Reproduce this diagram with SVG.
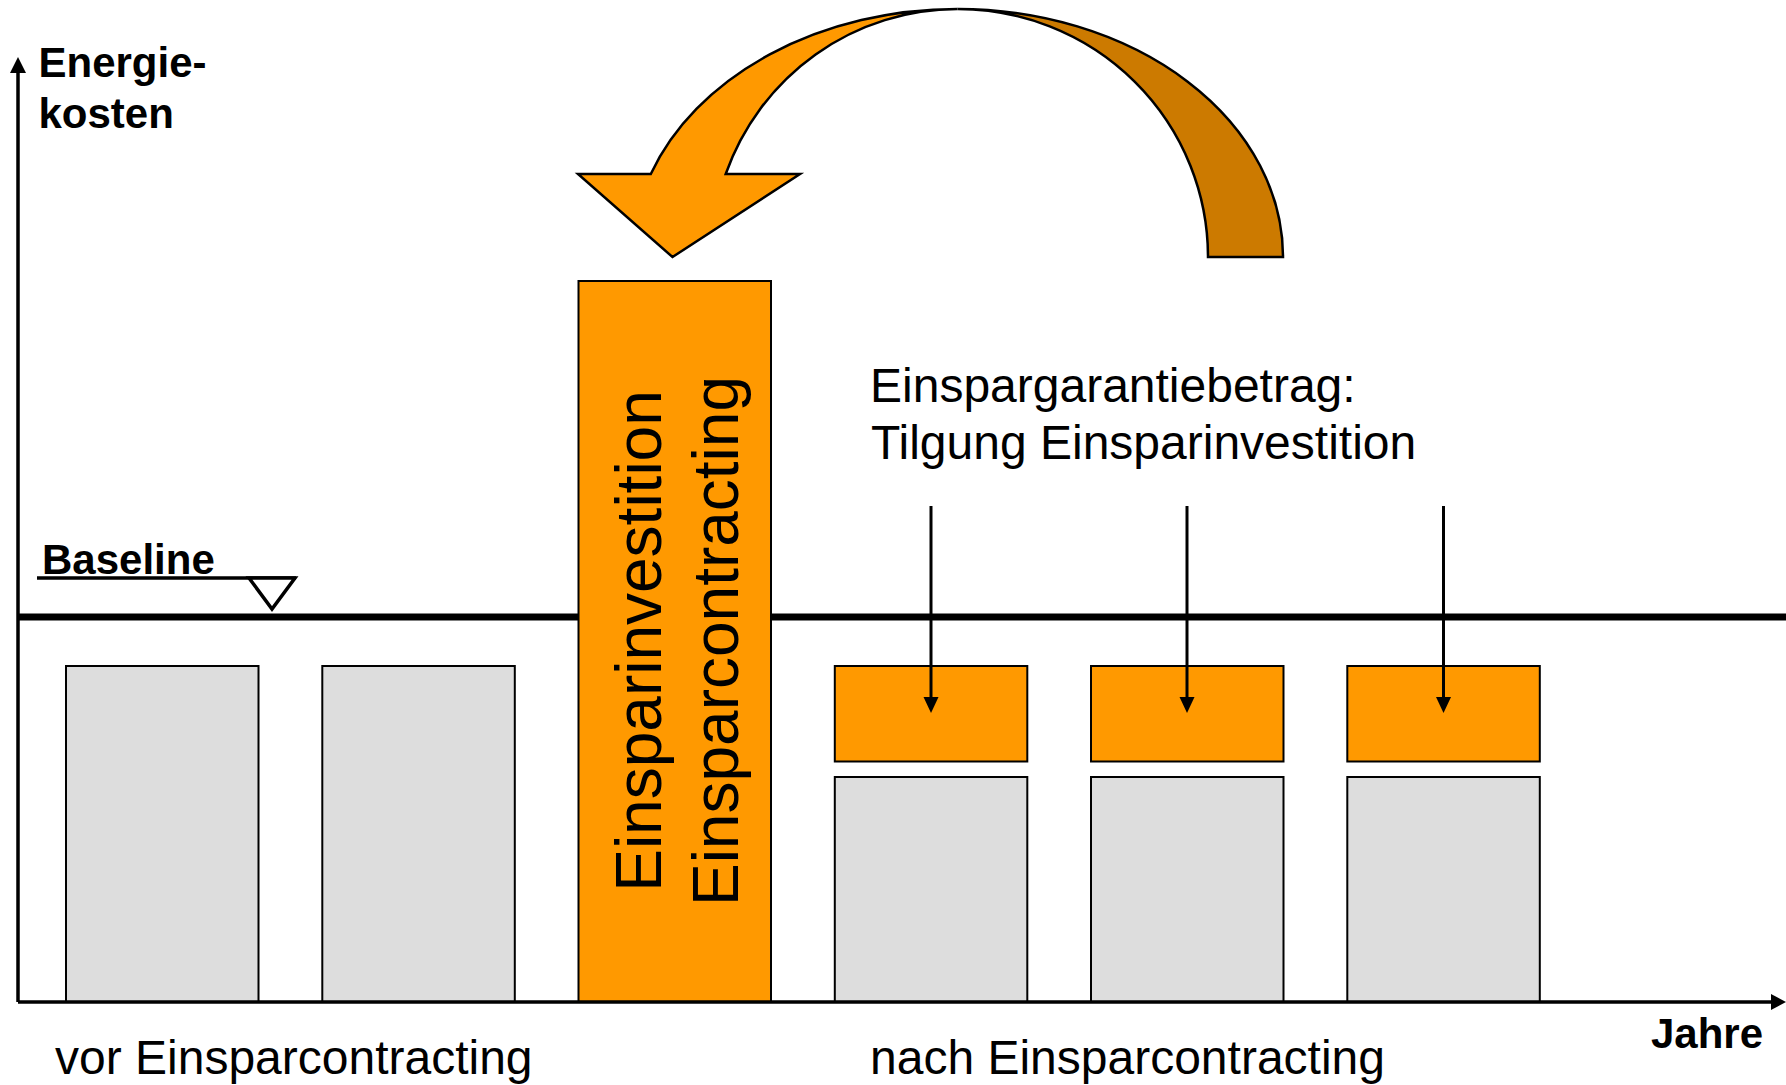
<svg xmlns="http://www.w3.org/2000/svg" width="1786" height="1085" viewBox="0 0 1786 1085">
<style>
.bold{font-family:"Liberation Sans",Arial,sans-serif;font-weight:bold;font-size:42px;fill:#000}
.reg{font-family:"Liberation Sans",Arial,sans-serif;font-size:48px;fill:#000}
.big{font-family:"Liberation Sans",Arial,sans-serif;font-size:64px;fill:#000}
.grey{fill:#DDDDDD;stroke:#000;stroke-width:2}
.orange{fill:#FF9900;stroke:#000;stroke-width:2}
.dark{fill:#CC7A00;stroke:#000;stroke-width:2.5;stroke-linejoin:miter}
.front{fill:#FF9900;stroke:#000;stroke-width:2.5;stroke-linejoin:miter}
.conn{stroke:#000;stroke-width:3;fill:none}
</style>
<rect x="0" y="0" width="1786" height="1085" fill="#fff"/>
<g id="baseline">
<line x1="18" y1="617" x2="1786" y2="617" stroke="#000" stroke-width="7"/>
<line x1="37" y1="578" x2="296" y2="578" stroke="#000" stroke-width="3.5"/>
<polygon points="249,578 295,578 272,609" fill="#fff" stroke="#000" stroke-width="3.5" stroke-linejoin="miter"/>
<text class="bold" x="42" y="574">Baseline</text>
</g>
<g id="bar1"><rect class="grey" x="66" y="666" width="192.5" height="336"/></g>
<g id="bar2"><rect class="grey" x="322.3" y="666" width="192.5" height="336"/></g>
<g id="investment">
<rect class="orange" x="578.5" y="281" width="192.5" height="721"/>
<text class="big" text-anchor="middle" transform="translate(661,641) rotate(-90)">Einsparinvestition</text>
<text class="big" text-anchor="middle" transform="translate(738,641) rotate(-90)">Einsparcontracting</text>
</g>
<g id="year1">
<rect class="orange" x="834.8" y="666" width="192.5" height="95.5"/>
<rect class="grey" x="834.8" y="777" width="192.5" height="225"/>
</g>
<g id="year2">
<rect class="orange" x="1091" y="666" width="192.5" height="95.5"/>
<rect class="grey" x="1091" y="777" width="192.5" height="225"/>
</g>
<g id="year3">
<rect class="orange" x="1347.3" y="666" width="192.5" height="95.5"/>
<rect class="grey" x="1347.3" y="777" width="192.5" height="225"/>
</g>
<g id="axes">
<line x1="18" y1="70" x2="18" y2="1002" stroke="#000" stroke-width="3.5"/>
<polygon points="18,57 10,73 26,73" fill="#000"/>
<line x1="18" y1="1002" x2="1775" y2="1002" stroke="#000" stroke-width="3.5"/>
<polygon points="1786,1002 1771,994 1771,1010" fill="#000"/>
<text class="bold" x="38.5" y="77">Energie-</text>
<text class="bold" x="38.5" y="128">kosten</text>
<text class="bold" x="1651" y="1048">Jahre</text>
</g>
<g id="curved-arrow">
<path class="dark" d="M957.5 9 A325.5 248 0 0 1 1283 257 L1208 257 A250.5 248 0 0 0 957.5 9 Z"/>
<path class="front" d="M957.5 9 A325.5 248 0 0 0 650.8 174 L578 174 L672.5 257 L800 174 L725.7 174 A246 248 0 0 1 957.5 9 Z"/>
</g>
<g id="connectors">
<line class="conn" x1="931" y1="506" x2="931" y2="700"/>
<polygon points="931,713 923.5,697 938.5,697" fill="#000"/>
<line class="conn" x1="1187" y1="506" x2="1187" y2="700"/>
<polygon points="1187,713 1179.5,697 1194.5,697" fill="#000"/>
<line class="conn" x1="1443.5" y1="506" x2="1443.5" y2="700"/>
<polygon points="1443.5,713 1436,697 1451,697" fill="#000"/>
</g>
<g id="labels">
<text class="reg" x="870" y="401.5">Einspargarantiebetrag:</text>
<text class="reg" x="871" y="459">Tilgung Einsparinvestition</text>
<text class="reg" x="55" y="1074">vor Einsparcontracting</text>
<text class="reg" x="870" y="1074">nach Einsparcontracting</text>
</g>
</svg>
